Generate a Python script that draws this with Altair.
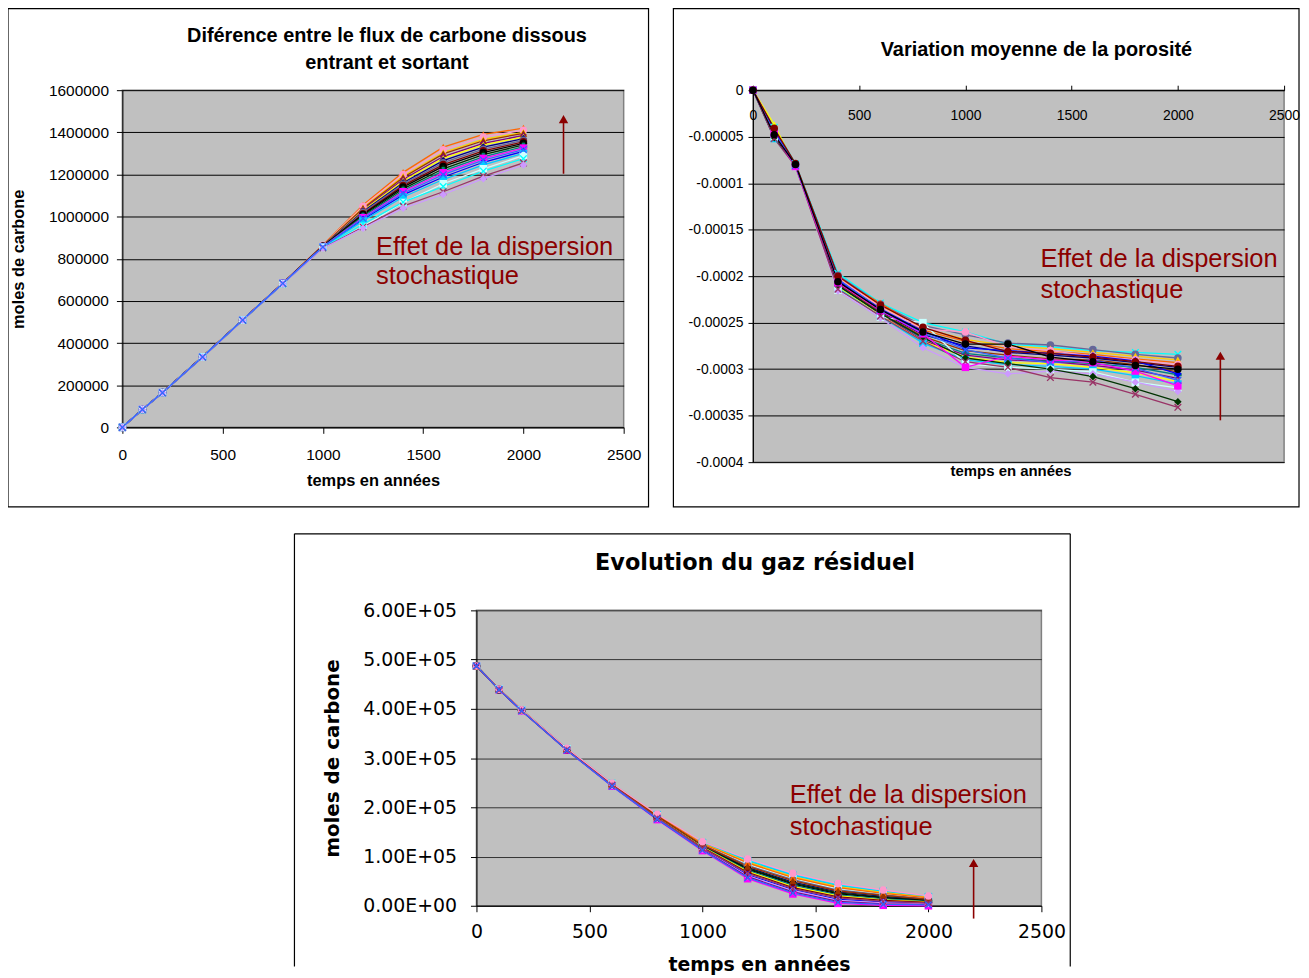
import altair as alt
import pandas as pd

# ---------------- data ----------------
T = [0, 100, 200, 400, 600, 800, 1000, 1200, 1400, 1600, 1800, 2000]
XT = [0, 500, 1000, 1500, 2000, 2500]

PALETTE = ["#000080", "#FF00FF", "#FFFF00", "#00FFFF", "#800080", "#800000", "#008080", "#0000FF",
           "#00CCFF", "#CCFFFF", "#FF99CC", "#CC99FF", "#FFCC00", "#FF6600", "#993300", "#993366",
           "#003300", "#000000", "#3366FF", "#666699"]
X_PATH = "M-1,-0.75L-0.75,-1L0,-0.25L0.75,-1L1,-0.75L0.25,0L1,0.75L0.75,1L0,0.25L-0.75,1L-1,0.75L-0.25,0Z"
STAR_PATH = "M0,-1L0.24,-0.33L0.95,-0.31L0.38,0.12L0.59,0.81L0,0.4L-0.59,0.81L-0.38,0.12L-0.95,-0.31L-0.24,-0.33Z"
SHAPES = ["diamond", "square", "triangle-up", X_PATH, STAR_PATH, "circle", "cross", "diamond",
          "square", "square", "circle", "diamond", "triangle-up", "triangle-up", "triangle-up", X_PATH,
          "diamond", "circle", X_PATH, "circle"]

# Panel 1: dissolved carbon flux difference (thousands of moles)
FLUX_KMOL = {
    13: [0, 85, 166, 336, 511, 685, 865, 1055, 1210, 1330, 1390, 1420],
    10: [0, 85, 165, 335, 510, 685, 864, 1049, 1200, 1317, 1378, 1410],
    12: [0, 84, 165, 335, 511, 684, 863, 1042, 1191, 1304, 1366, 1400],
    14: [0, 85, 166, 336, 510, 684, 863, 1039, 1186, 1298, 1360, 1395],
    4: [0, 85, 165, 335, 510, 684, 862, 1033, 1176, 1285, 1348, 1385],
    2: [0, 84, 165, 334, 510, 684, 861, 1029, 1169, 1276, 1340, 1378],
    0: [0, 85, 165, 335, 510, 684, 861, 1024, 1161, 1266, 1330, 1370],
    19: [0, 85, 164, 335, 509, 683, 860, 1019, 1154, 1256, 1320, 1362],
    5: [0, 85, 165, 335, 510, 684, 859, 1014, 1147, 1247, 1312, 1355],
    17: [0, 85, 165, 334, 509, 684, 859, 1010, 1140, 1238, 1304, 1348],
    16: [0, 85, 165, 335, 510, 683, 858, 1005, 1132, 1227, 1294, 1340],
    6: [0, 84, 165, 335, 509, 683, 857, 1000, 1124, 1217, 1284, 1332],
    1: [0, 85, 165, 335, 510, 684, 857, 995, 1118, 1208, 1276, 1325],
    7: [0, 85, 165, 335, 510, 683, 856, 986, 1103, 1188, 1258, 1310],
    8: [0, 84, 165, 334, 509, 683, 855, 980, 1093, 1176, 1246, 1300],
    9: [0, 85, 165, 334, 509, 682, 854, 953, 1067, 1156, 1227, 1289],
    3: [0, 85, 164, 334, 508, 682, 853, 964, 1069, 1143, 1216, 1275],
    15: [0, 84, 164, 333, 508, 682, 851, 951, 1050, 1118, 1192, 1255],
    11: [0, 84, 164, 333, 508, 681, 850, 945, 1040, 1105, 1180, 1245],
    18: [0, 85, 164, 334, 509, 683, 856, 991, 1111, 1199, 1268, 1318],
}

# Panel 2: mean porosity variation (units of 1e-5)
POROSITY_E5 = {
    3: [0, -4.0, -7.9, -19.7, -22.9, -25.0, -26.0, -27.3, -27.6, -28.0, -28.2, -28.4],
    19: [0, -4.4, -8.0, -19.9, -23.0, -25.3, -26.3, -27.2, -27.4, -27.9, -28.4, -28.8],
    12: [0, -4.2, -8.0, -20.1, -23.2, -25.6, -26.8, -27.5, -27.8, -28.2, -28.6, -29.0],
    13: [0, -4.5, -8.1, -20.3, -22.9, -25.8, -27.0, -27.8, -28.1, -28.4, -28.9, -29.3],
    0: [0, -4.6, -8.1, -20.5, -23.8, -26.3, -27.5, -28.2, -28.5, -28.8, -29.3, -29.8],
    14: [0, -4.9, -8.2, -20.8, -23.9, -26.5, -28.0, -28.5, -28.9, -29.0, -29.5, -30.3],
    6: [0, -5.0, -8.1, -21.0, -24.0, -26.7, -28.3, -28.8, -29.1, -29.4, -29.8, -30.6],
    4: [0, -4.7, -8.0, -20.9, -24.1, -26.9, -28.5, -29.0, -29.2, -29.6, -30.1, -31.0],
    2: [0, -3.7, -8.2, -21.2, -24.2, -27.0, -28.7, -29.3, -29.4, -29.8, -30.4, -31.3],
    8: [0, -5.2, -8.1, -21.3, -24.3, -27.2, -29.0, -29.5, -29.7, -30.0, -30.7, -31.6],
    9: [0, -5.0, -8.2, -21.5, -24.4, -25.0, -29.4, -29.8, -30.0, -30.3, -31.4, -32.0],
    11: [0, -4.9, -8.1, -21.6, -24.5, -27.7, -29.8, -30.5, -30.2, -30.5, -31.4, -32.4],
    16: [0, -5.1, -8.0, -21.0, -24.0, -26.6, -28.8, -29.4, -30.0, -30.8, -32.1, -33.5],
    15: [0, -5.2, -8.2, -21.4, -24.3, -27.0, -29.2, -29.8, -30.9, -31.4, -32.7, -34.1],
    10: [0, -4.4, -8.0, -20.2, -23.3, -25.7, -26.0, -27.6, -28.0, -28.6, -29.0, -29.5],
    7: [0, -4.3, -8.1, -20.4, -23.5, -25.9, -27.7, -28.0, -28.3, -28.6, -29.1, -30.5],
    1: [0, -4.7, -8.2, -20.7, -23.7, -26.2, -29.8, -28.6, -29.0, -29.3, -30.2, -31.8],
    18: [0, -4.5, -8.1, -20.3, -23.6, -26.1, -27.9, -28.8, -29.3, -29.0, -29.9, -31.2],
    5: [0, -4.1, -7.9, -20.0, -23.1, -25.5, -26.9, -28.1, -28.3, -28.7, -29.2, -29.7],
    17: [0, -4.8, -8.0, -20.6, -23.6, -26.0, -27.3, -27.3, -28.7, -29.2, -29.6, -30.0],
}

# Panel 3: residual gas (thousands of moles)
GAZ_KMOL = {
    1: [487, 439, 396, 316, 243, 175, 112, 55, 24, 5, 1, 0],
    3: [487, 440, 398, 320, 249, 185, 129, 93, 64, 43, 30, 19],
    8: [487, 440, 398, 319, 248, 185, 128, 91, 62, 41, 29, 18],
    12: [487, 440, 398, 319, 248, 184, 127, 89, 59, 39, 27, 17],
    9: [487, 440, 397, 319, 247, 183, 125, 84, 55, 34, 24, 15],
    19: [487, 440, 397, 319, 247, 183, 124, 82, 53, 32, 22, 14],
    0: [487, 440, 397, 318, 246, 181, 122, 78, 48, 28, 19, 12],
    16: [487, 439, 397, 318, 246, 181, 121, 76, 46, 26, 17, 11],
    17: [487, 439, 397, 318, 246, 180, 121, 74, 44, 24, 16, 10],
    6: [487, 439, 397, 318, 246, 180, 120, 72, 42, 22, 14, 9],
    2: [487, 439, 397, 317, 245, 179, 119, 70, 39, 20, 12, 8],
    5: [487, 439, 397, 317, 245, 178, 118, 68, 37, 18, 11, 7],
    7: [487, 439, 396, 317, 244, 177, 116, 63, 33, 13, 8, 5],
    11: [487, 439, 396, 317, 244, 177, 115, 61, 31, 11, 6, 4],
    13: [487, 440, 398, 319, 248, 184, 126, 87, 57, 37, 25, 16],
    14: [487, 440, 397, 318, 247, 182, 123, 80, 51, 30, 21, 13],
    10: [487, 440, 398, 320, 249, 186, 130, 95, 66, 45, 32, 20],
    4: [487, 439, 396, 316, 244, 176, 114, 59, 28, 9, 4, 3],
    15: [487, 439, 396, 317, 245, 178, 117, 66, 35, 16, 9, 6],
    18: [487, 439, 396, 316, 243, 176, 113, 57, 26, 7, 3, 2],
}

NOTE = ["Effet de la dispersion", "stochastique"]
TITLE1 = ["Diférence entre le flux de carbone dissous", "entrant et sortant"]
TITLE2 = "Variation moyenne de la porosité"
TITLE3 = "Evolution du gaz résiduel"
RED = "#8B0000"


def long_table(series, factor):
    rows = []
    for idx, vals in series.items():
        for t, v in zip(T, vals):
            rows.append({"t": t, "v": v * factor, "s": "S%02d" % idx})
    return pd.DataFrame(rows)


DOM = ["S%02d" % i for i in range(len(PALETTE))]
COLOR = alt.Color("s:N", scale=alt.Scale(domain=DOM, range=PALETTE), legend=None)
SHAPE = alt.Shape("s:N", scale=alt.Scale(domain=DOM, range=SHAPES), legend=None)
ONE = pd.DataFrame({"k": [0]})
PLOT_BG = alt.ViewBackground(fill="#C0C0C0", stroke="#808080", strokeWidth=1.5)


def frame_rect(x1, x2, y1, y2):
    return alt.Chart(ONE).mark_rect(fill="white", fillOpacity=0, stroke="black", strokeWidth=1.2).encode(
        x=alt.value(x1), x2=alt.value(x2), y=alt.value(y1), y2=alt.value(y2))


def title_text(txt, px, py, font, size):
    return alt.Chart(ONE).mark_text(
        text=txt, font=font, fontSize=size, fontWeight="bold", align="center", baseline="middle",
        color="black").encode(x=alt.value(px), y=alt.value(py))


def panel(df, x, y, note_xy, arrow):
    lines = alt.Chart(df).mark_line(strokeWidth=1.3).encode(x=x, y=y, color=COLOR)
    pts = alt.Chart(df).mark_point(filled=True, size=58, opacity=1).encode(x=x, y=y, color=COLOR, shape=SHAPE)
    nx, ny1, ny2 = note_xy
    note = alt.Chart(pd.DataFrame({"t": [nx, nx], "v": [ny1, ny2], "label": NOTE})).mark_text(
        align="left", baseline="alphabetic", font="Liberation Sans", fontSize=25.6, color=RED
    ).encode(x=x, y=y, text="label:N")
    ax, ab, ah = arrow
    rule = alt.Chart(pd.DataFrame({"t": [ax], "v": [ab], "v2": [ah]})).mark_rule(
        color=RED, strokeWidth=1.6).encode(x=x, y=y, y2="v2:Q")
    head = alt.Chart(pd.DataFrame({"t": [ax], "v": [ah]})).mark_point(
        shape="triangle-up", filled=True, size=90, color=RED, opacity=1).encode(x=x, y=y)
    return [lines, pts, note, rule, head]


# ---------------- panel 1 ----------------
df1 = long_table(FLUX_KMOL, 1000)
x1 = alt.X("t:Q", scale=alt.Scale(domain=[0, 2500], nice=False, zero=False),
           axis=alt.Axis(values=XT, format="d", title="temps en années", grid=False, labelFontSize=15.5,
                         titleFontSize=16.5, labelPadding=14, titlePadding=10, tickSize=6,
                         labelFlush=False, labelOverlap=False))
y1 = alt.Y("v:Q", scale=alt.Scale(domain=[0, 1600000], nice=False),
           axis=alt.Axis(values=[0, 200000, 400000, 600000, 800000, 1000000, 1200000, 1400000, 1600000],
                         format="d", title="moles de carbone", grid=True, gridColor="black",
                         labelFontSize=15.5, titleFontSize=16.5, labelPadding=8, tickSize=6,
                         titlePadding=22, labelFlush=False, labelOverlap=False))
c1 = alt.layer(
    frame_rect(-115, 529, -82, 419),
    title_text(TITLE1[0], 266, -54, "Liberation Sans", 20),
    title_text(TITLE1[1], 266, -27, "Liberation Sans", 20),
    *panel(df1, x1, y1, (1265, 816600, 679700), (2200, 1203500, 1463000))
).properties(width=504, height=339, view=PLOT_BG)

# ---------------- panel 2 ----------------
df2 = long_table(POROSITY_E5, 1e-5)
x2 = alt.X("t:Q", scale=alt.Scale(domain=[0, 2500], nice=False, zero=False),
           axis=alt.Axis(values=XT, format="d", orient="top", title="temps en années", grid=False,
                         labelFontSize=14, titleFontSize=15, labelPadding=-30, labelBaseline="middle",
                         tickSize=5, titleX=259, titleY=382, titleBaseline="middle",
                         minExtent=0, maxExtent=10,
                         labelFlush=False, labelOverlap=False))
y2 = alt.Y("v:Q", scale=alt.Scale(domain=[-0.0004, 0], nice=False, zero=False),
           axis=alt.Axis(values=[0, -0.00005, -0.0001, -0.00015, -0.0002, -0.00025, -0.0003, -0.00035, -0.0004],
                         labelExpr="datum.value == 0 ? '0' : '-' + format(-datum.value, '~g')",
                         title=None, grid=True, gridColor="black", labelFontSize=14, labelPadding=5,
                         tickSize=5, labelFlush=False, labelOverlap=False))
c2 = alt.layer(
    frame_rect(-80, 549, -82, 419),
    title_text(TITLE2, 285, -40, "Liberation Sans", 20),
    *panel(df2, x2, y2, (1353, -0.0001904, -0.0002235), (2200, -0.000355, -0.0002856))
).properties(width=534, height=374, view=PLOT_BG)

# ---------------- panel 3 ----------------
df3 = long_table(GAZ_KMOL, 1000)
x3 = alt.X("t:Q", scale=alt.Scale(domain=[0, 2500], nice=False, zero=False),
           axis=alt.Axis(values=XT, format="d", title="temps en années", grid=False, labelFont="DejaVu Sans",
                         titleFont="DejaVu Sans", labelFontSize=19, titleFontSize=19, labelPadding=11,
                         titlePadding=14, tickSize=6, labelFlush=False, labelOverlap=False))
y3 = alt.Y("v:Q", scale=alt.Scale(domain=[0, 600000], nice=False),
           axis=alt.Axis(values=[0, 100000, 200000, 300000, 400000, 500000, 600000],
                         labelExpr="replace(format(datum.value, '.2e'), 'e+', 'E+0')",
                         title="moles de carbone", grid=True, gridColor="#333333",
                         labelFont="DejaVu Sans", titleFont="DejaVu Sans", labelFontSize=19,
                         titleFontSize=20, labelPadding=14, tickSize=6, titlePadding=20,
                         labelFlush=False, labelOverlap=False))
edge = dict(color="black", strokeWidth=1.2)
c3 = alt.layer(
    alt.Chart(ONE).mark_rule(**edge).encode(x=alt.value(-183), y=alt.value(-77), y2=alt.value(358)),
    alt.Chart(ONE).mark_rule(**edge).encode(x=alt.value(597), y=alt.value(-77), y2=alt.value(358)),
    alt.Chart(ONE).mark_rule(**edge).encode(x=alt.value(-183), x2=alt.value(597), y=alt.value(-77)),
    title_text(TITLE3, 280, -48, "DejaVu Sans", 22.5),
    *panel(df3, x3, y3, (1386, 208000, 143000), (2200, -26000, 86900))
).properties(width=568, height=297, view=PLOT_BG)

spacer = alt.Chart(ONE).mark_point(opacity=0).encode(x=alt.value(0), y=alt.value(0)).properties(
    width=171, height=10)

chart = alt.vconcat(
    alt.hconcat(c1, c2, spacing=21),
    alt.hconcat(spacer, c3, spacing=0),
    spacing=23,
).properties(padding={"left": -2, "top": -4, "right": 0, "bottom": 0}, background="white").configure_view(
    strokeWidth=0
).configure_axis(
    labelFont="Liberation Sans", titleFont="Liberation Sans", titleFontWeight="bold",
    labelColor="black", titleColor="black", domainColor="black", tickColor="black",
    domainWidth=1, tickWidth=1, gridWidth=1
)

chart.save("out.html", embed_options={"renderer": "svg", "actions": False})
